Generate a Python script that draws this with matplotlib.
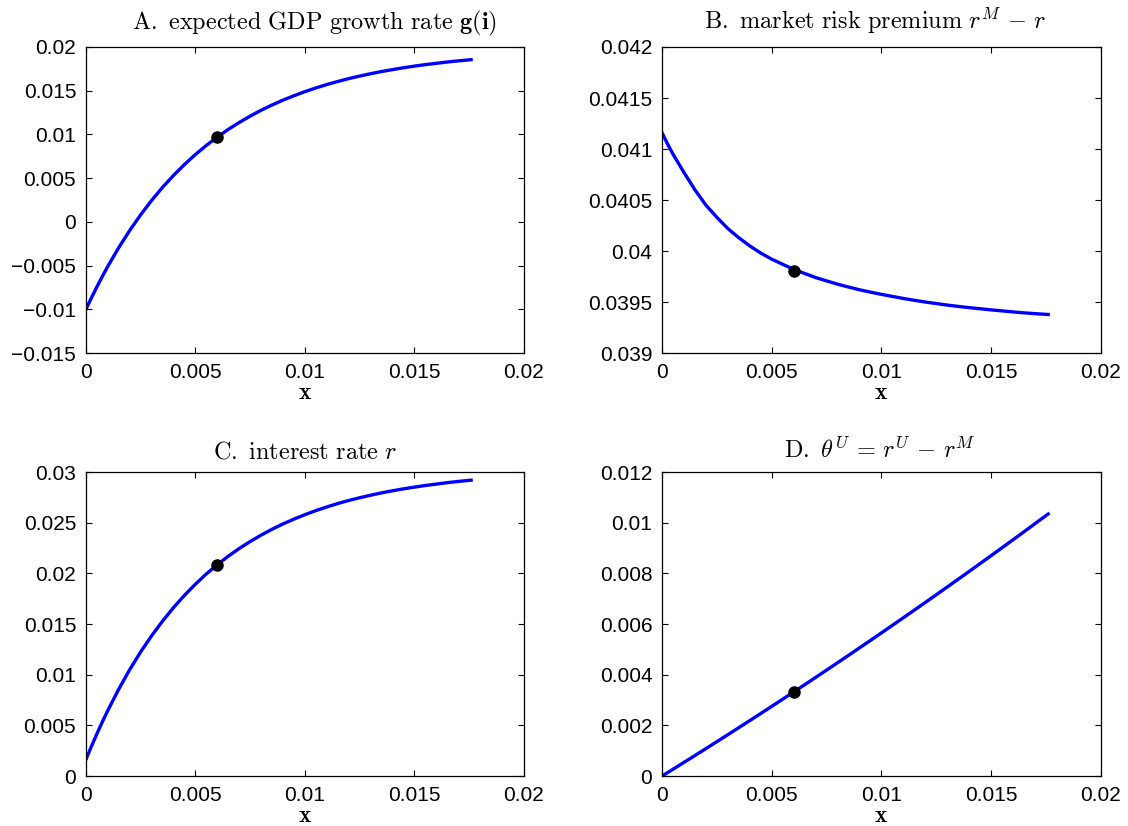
import numpy as np
import matplotlib.pyplot as plt
from matplotlib.ticker import FuncFormatter

plt.rcParams['mathtext.fontset'] = 'cm'
plt.rcParams['font.family'] = ['Liberation Sans', 'DejaVu Sans']

# values
x = [0, 0.00025, 0.0005, 0.00075, 0.001, 0.0015, 0.002, 0.0025, 0.003, 0.0035,
     0.004, 0.0045, 0.005, 0.0055, 0.006, 0.0065, 0.007, 0.0075, 0.008, 0.0085,
     0.009, 0.0095, 0.010, 0.0105, 0.011, 0.0115, 0.012, 0.0125, 0.013, 0.0135,
     0.014, 0.0145, 0.015, 0.0155, 0.016, 0.0165, 0.017, 0.0176]
g_growth = [-0.0100, -0.00869, -0.00743, -0.00623, -0.00508, -0.00294, -0.00098, 0.00081,
            0.00245, 0.00395, 0.00531, 0.00656, 0.00770, 0.00874, 0.00970, 0.01057,
            0.01136, 0.01209, 0.01276, 0.01336, 0.01392, 0.01442, 0.01489, 0.01531,
            0.01570, 0.01605, 0.01638, 0.01667, 0.01694, 0.01719, 0.01741, 0.01762,
            0.01781, 0.01798, 0.01813, 0.01828, 0.01841, 0.01855]
premium = [0.04116, 0.04105, 0.04095, 0.04086, 0.04077, 0.04060, 0.04045, 0.04033,
           0.04022, 0.04013, 0.04005, 0.03998, 0.03992, 0.03987, 0.03982, 0.03978,
           0.03974, 0.039707, 0.039675, 0.039647, 0.03962, 0.039597, 0.039575, 0.039555,
           0.039535, 0.039517, 0.03950, 0.039485, 0.03947, 0.039457, 0.039445, 0.039434,
           0.039423, 0.039413, 0.039403, 0.039394, 0.039386, 0.039378]
rate = [0.00163, 0.00293, 0.00416, 0.00535, 0.00647, 0.00858, 0.01050, 0.01225,
        0.01384, 0.01529, 0.01662, 0.01783, 0.01893, 0.01994, 0.02085, 0.02169,
        0.02245, 0.02314, 0.02377, 0.02435, 0.02488, 0.02535, 0.02579, 0.02619,
        0.02655, 0.02689, 0.02719, 0.02746, 0.02771, 0.02794, 0.02815, 0.02834,
        0.02851, 0.02867, 0.02881, 0.02895, 0.02907, 0.02920]
theta = [0, 0.000134, 0.000268, 0.000403, 0.000538, 0.000809, 0.001082, 0.001356,
         0.001632, 0.001909, 0.002188, 0.002468, 0.00275, 0.003033, 0.003318, 0.003604,
         0.003892, 0.004181, 0.004472, 0.004764, 0.005058, 0.005353, 0.00565, 0.005948,
         0.006248, 0.006549, 0.006852, 0.007156, 0.007462, 0.007769, 0.008078, 0.008388,
         0.0087, 0.009013, 0.009328, 0.009644, 0.009962, 0.010345]

x_dot = 0.006
dots = [0.0097, 0.0398, 0.02085, 0.00332]

titles = [r'$\mathrm{A.\ expected\ GDP\ growth\ rate\ }\mathbf{g}(\mathbf{i})$',
          r'$\mathrm{B.\ market\ risk\ premium\ }r^M\,-\,r$',
          r'$\mathrm{C.\ interest\ rate\ }r$',
          r'$\mathrm{D.\ }\theta^U\,=\,r^U\,-\,r^M$']

xticks = [0, 0.005, 0.01, 0.015, 0.02]
yticks = [[-0.015, -0.01, -0.005, 0, 0.005, 0.01, 0.015, 0.02],
          [0.039, 0.0395, 0.04, 0.0405, 0.041, 0.0415, 0.042],
          [0, 0.005, 0.01, 0.015, 0.02, 0.025, 0.03],
          [0, 0.002, 0.004, 0.006, 0.008, 0.01, 0.012]]

fig = plt.figure(figsize=(11.28, 8.26), dpi=100)
pos = [[0.0762, 0.5726, 0.3880, 0.3705],
       [0.5869, 0.5726, 0.3890, 0.3705],
       [0.0762, 0.0605, 0.3880, 0.3680],
       [0.5869, 0.0605, 0.3890, 0.3680]]
pads = [13, 13, 10, 10]
title_x = [0.522, 0.486, 0.5, 0.496]

fmt = FuncFormatter(lambda v, p: ('%g' % v).replace('-', '\u2212'))

for i, y in enumerate([g_growth, premium, rate, theta]):
    ax = fig.add_axes(pos[i])
    ax.plot(x, y, color='#0000ff', linewidth=2.4, solid_joinstyle='round')
    ax.plot(x_dot, dots[i], 'o', color='k', markersize=8)
    ax.set_xlim(0, 0.02)
    ax.set_ylim(yticks[i][0], yticks[i][-1])
    ax.set_xticks(xticks)
    ax.set_yticks(yticks[i])
    ax.xaxis.set_major_formatter(fmt)
    ax.yaxis.set_major_formatter(fmt)
    ax.tick_params(direction='in', top=True, right=True, length=4, width=0.8,
                   labelsize=15, pad=7)
    for s in ax.spines.values():
        s.set_linewidth(0.9)
    ax.set_title(titles[i], fontsize=17.5, pad=pads[i], x=title_x[i])
    ax.set_xlabel(r'$\mathbf{x}$', fontsize=17, labelpad=0)

plt.savefig('out.png', dpi=100)
